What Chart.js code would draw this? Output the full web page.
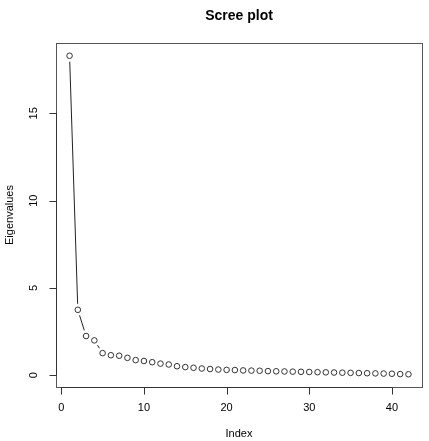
<!DOCTYPE html>
<html>
<head>
<meta charset="utf-8">
<script src="https://cdn.jsdelivr.net/npm/chart.js@4"></script>
<style>
html,body{margin:0;padding:0;background:#fff;}
#wrap{width:429px;height:441px;}
</style>
</head>
<body>
<div id="wrap"><canvas id="c" width="429" height="441"></canvas></div>
<script>
const titleText = "Scree plot";
const xLabel = "Index";
const yLabel = "Eigenvalues";
const eigenvalues = [18.3, 3.75, 2.25, 2.0, 1.27, 1.15, 1.12, 1.0, 0.87, 0.82,
  0.75, 0.67, 0.62, 0.52, 0.47, 0.43, 0.39, 0.36, 0.33, 0.31,
  0.30, 0.28, 0.27, 0.26, 0.24, 0.23, 0.22, 0.21, 0.20, 0.19,
  0.18, 0.17, 0.16, 0.15, 0.14, 0.13, 0.12, 0.11, 0.10, 0.09,
  0.07, 0.06];
const indices = eigenvalues.map((v, i) => i + 1);
const xTicks = [0, 10, 20, 30, 40];
const yTicks = [0, 5, 10, 15];

const pts = indices.map((x, i) => ({x: x, y: eigenvalues[i]}));
const xmin = Math.min(...indices), xmax = Math.max(...indices);
const ymin = Math.min(...eigenvalues), ymax = Math.max(...eigenvalues);
const xe = (xmax - xmin) * 0.04, ye = (ymax - ymin) * 0.04;

const FONT = '"Liberation Sans", Arial, Helvetica, sans-serif';

const rAxes = {
  id: 'rAxes',
  afterDraw(chart) {
    const ctx = chart.ctx, a = chart.chartArea;
    const xs = chart.scales.x, ys = chart.scales.y;
    ctx.save();
    ctx.strokeStyle = '#555';
    ctx.lineWidth = 1;
    ctx.strokeRect(Math.round(a.left) + 0.5, Math.round(a.top) + 0.5,
      Math.round(a.right - a.left), Math.round(a.bottom - a.top));
    ctx.strokeStyle = '#333';
    // x axis
    ctx.beginPath();
    const bx = Math.round(a.bottom) + 0.5;
    const x0 = xs.getPixelForValue(xTicks[0]), x1 = xs.getPixelForValue(xTicks[xTicks.length - 1]);
    ctx.moveTo(x0, bx); ctx.lineTo(x1, bx);
    xTicks.forEach(t => { const p = Math.round(xs.getPixelForValue(t)) + 0.5; ctx.moveTo(p, bx); ctx.lineTo(p, bx + 7); });
    // y axis
    const lx = Math.round(a.left) + 0.5;
    const y0 = ys.getPixelForValue(yTicks[0]), y1 = ys.getPixelForValue(yTicks[yTicks.length - 1]);
    ctx.moveTo(lx, y0); ctx.lineTo(lx, y1);
    yTicks.forEach(t => { const p = Math.round(ys.getPixelForValue(t)) + 0.5; ctx.moveTo(lx, p); ctx.lineTo(lx - 7, p); });
    ctx.stroke();
    ctx.fillStyle = '#000';
    ctx.font = '11px ' + FONT;
    ctx.textAlign = 'center'; ctx.textBaseline = 'middle';
    xTicks.forEach(t => ctx.fillText(String(t), xs.getPixelForValue(t), 408));
    yTicks.forEach(t => {
      ctx.save(); ctx.translate(34, ys.getPixelForValue(t)); ctx.rotate(-Math.PI / 2);
      ctx.fillText(String(t), 0, 0); ctx.restore();
    });
    ctx.fillText(xLabel, (a.left + a.right) / 2, 434);
    ctx.save(); ctx.translate(10, (a.top + a.bottom) / 2); ctx.rotate(-Math.PI / 2);
    ctx.fillText(yLabel, 0, 0); ctx.restore();
    ctx.font = 'bold 14px ' + FONT;
    ctx.fillText(titleText, (a.left + a.right) / 2, 16);
    ctx.restore();
  }
};

new Chart(document.getElementById('c'), {
  type: 'scatter',
  data: {
    datasets: [
      { data: pts, showLine: true, borderColor: '#222', borderWidth: 1, pointRadius: 0, order: 3 },
      { data: pts, showLine: false, pointRadius: 6, pointBackgroundColor: '#fff', pointBorderColor: '#fff', pointBorderWidth: 0, order: 2 },
      { data: pts, showLine: false, pointRadius: 2.8, pointBackgroundColor: 'rgba(0,0,0,0)', pointBorderColor: '#333', pointBorderWidth: 1, order: 1 }
    ]
  },
  options: {
    responsive: false,
    animation: false,
    events: [],
    layout: { padding: { left: 56, right: 7, top: 43, bottom: 54 } },
    plugins: { legend: { display: false }, tooltip: { enabled: false }, title: { display: false } },
    scales: {
      x: { type: 'linear', display: false, min: xmin - xe, max: xmax + xe },
      y: { type: 'linear', display: false, min: ymin - ye, max: ymax + ye }
    }
  },
  plugins: [rAxes]
});
</script>
</body>
</html>
